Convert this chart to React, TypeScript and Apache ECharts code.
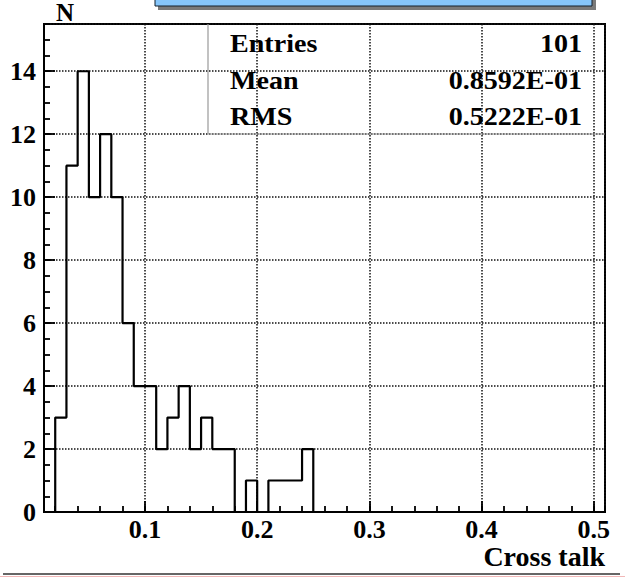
import React, { useEffect, useRef } from 'react';
import * as echarts from 'echarts';

// Histogram binning: lower edge of first bin and bin width
const BIN_START = 0.02;
const BIN_WIDTH = 0.01;
// Counts per bin, starting at BIN_START
const binCounts = [3, 11, 14, 10, 12, 10, 6, 4, 4, 2, 3, 4, 2, 3, 2, 2, 0, 1, 0, 1, 1, 1, 2];

const X_MIN = 0.01;
const X_MAX = 0.51;
const Y_MIN = 0;
const Y_MAX = 15.5;

const statNames = ['Entries', 'Mean', 'RMS'];
const statValues = ['101', '0.8592E-01', '0.5222E-01'];

const xTitle = 'Cross talk';
const yTitle = 'N';

const FONT = "'Liberation Serif', 'DejaVu Serif', 'Times New Roman', serif";

const round = (v: number) => Math.round(v * 1e6) / 1e6;

// Outline of the histogram as a stepped path: jump up at each bin's lower edge
const stepPoints: number[][] = [[BIN_START, 0]];
binCounts.forEach((c, i) => stepPoints.push([round(BIN_START + i * BIN_WIDTH), c]));
stepPoints.push([round(BIN_START + binCounts.length * BIN_WIDTH), 0]);

const W = 625;
const H = 577;
const GRID = { left: 44, top: 24, right: 20, bottom: 65 };

export default function App() {
  const ref = useRef<HTMLDivElement>(null);

  useEffect(() => {
    document.body.style.margin = '0';
    if (!ref.current) return;
    const chart = echarts.init(ref.current, null, { renderer: 'svg' });

    const plotRight = W - GRID.right;
    const statsLeft = 208;
    const statsBottom = 134;
    const rowY = [43.5, 80, 116];

    const dotted = { color: '#111', width: 1.5, type: 'dotted' as const };
    const frameLine = { show: true, lineStyle: { color: '#000', width: 2 } };
    const majorTick = { show: true, inside: true, length: 11, lineStyle: { color: '#000', width: 1.8 } };
    const minorTick = { show: true, inside: true, length: 6, lineStyle: { color: '#000', width: 1.8 } };
    const labelStyle = {
      fontFamily: FONT,
      fontWeight: 'bold' as const,
      fontSize: 26,
      color: '#000',
    };

    const statTexts: any[] = [];
    statNames.forEach((name, i) => {
      statTexts.push({
        type: 'text',
        x: 230,
        y: rowY[i],
        scaleX: 1.08,
        z: 20,
        style: {
          text: name,
          font: `bold 26px ${FONT}`,
          fill: '#000',
          textAlign: 'left',
          textVerticalAlign: 'middle',
        },
      });
      statTexts.push({
        type: 'text',
        x: 582,
        y: rowY[i],
        scaleX: 1.08,
        z: 20,
        style: {
          text: statValues[i],
          font: `bold 26px ${FONT}`,
          fill: '#000',
          textAlign: 'right',
          textVerticalAlign: 'middle',
        },
      });
    });

    chart.setOption({
      animation: false,
      backgroundColor: '#fff',
      grid: {
        left: GRID.left,
        top: GRID.top,
        right: GRID.right,
        bottom: GRID.bottom,
        containLabel: false,
        outerBoundsMode: 'none',
        show: true,
        borderColor: '#000',
        borderWidth: 2,
        backgroundColor: 'transparent',
      },
      xAxis: [
        {
          type: 'value',
          min: X_MIN,
          max: X_MAX,
          splitNumber: 5,
          axisLine: frameLine,
          axisTick: majorTick,
          axisLabel: {
            ...labelStyle,
            margin: 4,
            showMinLabel: false,
            showMaxLabel: false,
          },
          splitLine: { show: true, lineStyle: dotted },
          name: xTitle,
          nameLocation: 'end',
          nameGap: 0,
          nameTextStyle: {
            fontFamily: FONT,
            fontWeight: 'bold',
            fontSize: 28,
            color: '#000',
            align: 'right',
            verticalAlign: 'top',
            padding: [30, 0, 0, 0],
          },
        },
        {
          // finer tick marks every 0.02
          type: 'value',
          min: X_MIN,
          max: X_MAX,
          splitNumber: 25,
          position: 'bottom',
          axisLine: frameLine,
          axisTick: minorTick,
          axisLabel: { show: false },
          splitLine: { show: false },
        },
      ],
      yAxis: [
        {
          type: 'value',
          min: Y_MIN,
          max: Y_MAX,
          interval: 2,
          position: 'left',
          axisLine: frameLine,
          axisTick: majorTick,
          axisLabel: { ...labelStyle, margin: 8, showMaxLabel: false },
          splitLine: { show: true, lineStyle: dotted },
          name: yTitle,
          nameLocation: 'end',
          nameGap: -1,
          nameTextStyle: {
            fontFamily: FONT,
            fontWeight: 'bold',
            fontSize: 25,
            color: '#000',
            padding: [0, 0, 0, 42],
          },
        },
        {
          // finer tick marks every 0.5
          type: 'value',
          min: Y_MIN,
          max: Y_MAX,
          interval: 0.5,
          position: 'left',
          axisLine: frameLine,
          axisTick: minorTick,
          axisLabel: { show: false },
          splitLine: { show: false },
        },
      ],
      series: [
        {
          type: 'line',
          xAxisIndex: 0,
          yAxisIndex: 0,
          step: 'end',
          data: stepPoints,
          showSymbol: false,
          symbol: 'none',
          lineStyle: { color: '#000', width: 2.2 },
          z: 10,
        },
      ],
      graphic: [
        // title box peeking in from the top edge, with its drop shadow
        {
          type: 'rect',
          shape: { x: 158, y: -20, width: 438, height: 30 },
          style: { fill: '#7a7a7a' },
          z: 5,
        },
        {
          type: 'rect',
          shape: { x: 155, y: -23, width: 437, height: 29 },
          style: { fill: '#86c6fb', stroke: '#14202c', lineWidth: 1 },
          z: 6,
        },
        // statistics box (left and bottom edges; top/right share the frame)
        {
          type: 'polyline',
          shape: { points: [[statsLeft, GRID.top], [statsLeft, statsBottom], [plotRight, statsBottom]] },
          style: { stroke: '#9a9a9a', lineWidth: 1.2, fill: 'none' },
          z: 15,
        },
        ...statTexts,
        // page rule under the plot
        {
          type: 'line',
          shape: { x1: 3, y1: 574, x2: 620, y2: 574 },
          style: { stroke: '#333', lineWidth: 1.5 },
          z: 5,
        },
        {
          type: 'line',
          shape: { x1: 0, y1: 576.5, x2: 625, y2: 576.5 },
          style: { stroke: '#f2b8b8', lineWidth: 1 },
          z: 5,
        },
      ],
    });

    return () => chart.dispose();
  }, []);

  return <div ref={ref} style={{ width: W, height: H }} />;
}
